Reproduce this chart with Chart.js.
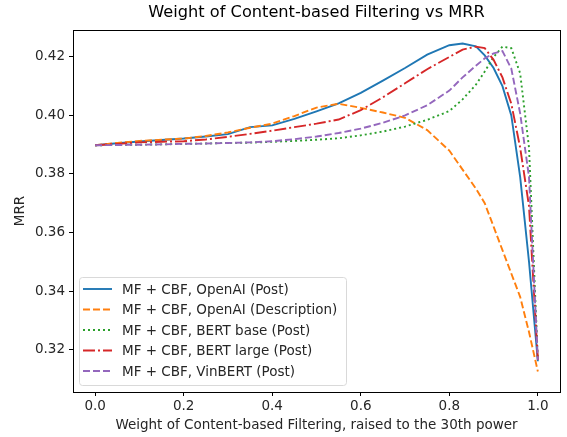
<!DOCTYPE html>
<html>
<head>
<meta charset="utf-8">
<script src="https://cdn.jsdelivr.net/npm/chart.js@4.4.1/dist/chart.umd.min.js"></script>
<style>
  html, body { margin: 0; padding: 0; background: #fff; }
  #wrap { width: 567px; height: 437px; position: relative; }
</style>
</head>
<body>
<div id="wrap"><canvas id="c"></canvas></div>
<script>
// x = weight of CBF, raised to the 30th power
var weights = [0, 0.05, 0.1, 0.15, 0.2, 0.25, 0.3, 0.35, 0.4, 0.45, 0.5, 0.55, 0.6, 0.65,
  0.7, 0.75, 0.8, 0.83, 0.86, 0.88, 0.9, 0.92, 0.94, 0.96, 0.98, 1.0];

var openaiPost = [0.3898, 0.3905, 0.3911, 0.3916, 0.3921, 0.3928, 0.3936, 0.3960, 0.3966, 0.3988,
  0.4014, 0.4041, 0.4077, 0.4119, 0.4162, 0.4208, 0.4240, 0.4246, 0.4236, 0.4205,
  0.4162, 0.4100, 0.4000, 0.3790, 0.3500, 0.3160];
var openaiDesc = [0.3898, 0.3906, 0.3913, 0.3917, 0.3921, 0.3930, 0.3942, 0.3958, 0.3972, 0.3998,
  0.4027, 0.4040, 0.4026, 0.4010, 0.3992, 0.3950, 0.3880, 0.3815, 0.3750, 0.3700,
  0.3620, 0.3540, 0.3460, 0.3380, 0.3260, 0.3125];
var bertBase = [0.3898, 0.3899, 0.3900, 0.3901, 0.3903, 0.3904, 0.3906, 0.3907, 0.3910, 0.3913,
  0.3917, 0.3922, 0.3932, 0.3945, 0.3962, 0.3985, 0.4015, 0.4055, 0.4105, 0.4150,
  0.4200, 0.4235, 0.4230, 0.4144, 0.3890, 0.3165];
var bertLarge = [0.3898, 0.3903, 0.3908, 0.3910, 0.3912, 0.3918, 0.3927, 0.3937, 0.3948, 0.3960,
  0.3972, 0.3986, 0.4018, 0.4062, 0.4110, 0.4158, 0.4200, 0.4225, 0.4235, 0.4230,
  0.4190, 0.4130, 0.4040, 0.3890, 0.3690, 0.3165];
var vinbert = [0.3898, 0.3899, 0.3900, 0.3901, 0.3903, 0.3904, 0.3906, 0.3908, 0.3912, 0.3919,
  0.3928, 0.3940, 0.3955, 0.3975, 0.4000, 0.4035, 0.4085, 0.4130, 0.4170, 0.4195,
  0.4212, 0.4220, 0.4160, 0.4007, 0.3790, 0.3165];

var seriesLabels = [
  'MF + CBF, OpenAI (Post)',
  'MF + CBF, OpenAI (Description)',
  'MF + CBF, BERT base (Post)',
  'MF + CBF, BERT large (Post)',
  'MF + CBF, VinBERT (Post)'
];
var seriesValues = [openaiPost, openaiDesc, bertBase, bertLarge, vinbert];

var xTicks = [0, 0.2, 0.4, 0.6, 0.8, 1.0];
var yTicks = [0.32, 0.34, 0.36, 0.38, 0.40, 0.42];

var chartTitle = 'Weight of Content-based Filtering vs MRR';

var COLORS = ['#1f77b4', '#ff7f0e', '#2ca02c', '#d62728', '#9467bd'];
var DASHES = [[], [7, 3], [2, 3], [12, 3, 2, 3], [7, 3]];
var FONT = 'DejaVu Sans';
var TXT = '#262626';

var datasets = seriesValues.map(function(vals, i) {
  return {
    label: seriesLabels[i],
    data: vals.map(function(v, j) { return { x: weights[j], y: v }; }),
    borderColor: COLORS[i],
    backgroundColor: COLORS[i],
    borderWidth: 1.9,
    borderDash: DASHES[i],
    pointRadius: 0,
    tension: 0,
    fill: false,
    order: 4 - i
  };
});

// frame, title over the plot area, and matplotlib-like legend in the lower left
var framePlugin = {
  id: 'frame',
  afterDraw: function(chart) {
    var ctx = chart.ctx, a = chart.chartArea;
    ctx.save();
    ctx.strokeStyle = '#000';
    ctx.lineWidth = 1;
    ctx.strokeRect(Math.round(a.left) + 0.5, Math.round(a.top) + 0.5,
      Math.round(a.right - a.left), Math.round(a.bottom - a.top));

    ctx.fillStyle = '#000';
    ctx.font = '16.2px "' + FONT + '"';
    ctx.textAlign = 'center';
    ctx.textBaseline = 'middle';
    ctx.fillText(chartTitle, (a.left + a.right) / 2, 13);

    // legend
    var lx = a.left + 6, ly = a.bottom - 115, lw = 267, lh = 108;
    ctx.fillStyle = 'rgba(255,255,255,0.8)';
    ctx.strokeStyle = '#d9d9d9';
    ctx.lineWidth = 1;
    ctx.beginPath();
    if (ctx.roundRect) ctx.roundRect(lx + 0.5, ly + 0.5, lw, lh, 3);
    else ctx.rect(lx + 0.5, ly + 0.5, lw, lh);
    ctx.fill();
    ctx.stroke();
    ctx.font = '13.5px "' + FONT + '"';
    ctx.textAlign = 'left';
    ctx.textBaseline = 'middle';
    chart.data.datasets.forEach(function(ds, i) {
      var y = ly + 12 + i * 20.5;
      ctx.strokeStyle = ds.borderColor;
      ctx.lineWidth = ds.borderWidth;
      ctx.setLineDash(ds.borderDash);
      ctx.beginPath();
      ctx.moveTo(lx + 4, y);
      ctx.lineTo(lx + 33, y);
      ctx.stroke();
      ctx.setLineDash([]);
      ctx.fillStyle = TXT;
      ctx.fillText(ds.label, lx + 43, y + 1);
    });
    ctx.restore();
  }
};

new Chart(document.getElementById('c'), {
  type: 'line',
  data: { datasets: datasets },
  plugins: [framePlugin],
  options: {
    responsive: true,
    maintainAspectRatio: false,
    animation: false,
    layout: { padding: { left: 0, right: 7, top: 30, bottom: 0 } },
    plugins: {
      legend: { display: false },
      tooltip: { enabled: false },
      title: { display: false }
    },
    scales: {
      x: {
        type: 'linear',
        min: -0.05,
        max: 1.05,
        afterBuildTicks: function(s) { s.ticks = xTicks.map(function(v) { return { value: v }; }); },
        afterFit: function(s) { s.height = 45; },
        grid: { drawOnChartArea: false, drawTicks: true, tickLength: 4, color: '#000' },
        border: { display: false },
        ticks: {
          color: TXT,
          padding: 2,
          maxRotation: 0,
          font: { family: FONT, size: 13.5 },
          callback: function(v) { return v.toFixed(1); }
        },
        title: {
          display: true,
          text: 'Weight of Content-based Filtering, raised to the 30th power',
          color: TXT,
          font: { family: FONT, size: 13.5 },
          padding: { top: 0, bottom: 3 }
        }
      },
      y: {
        min: 0.3055,
        max: 0.4292,
        afterBuildTicks: function(s) { s.ticks = yTicks.map(function(v) { return { value: v }; }); },
        afterFit: function(s) { s.width = 73; },
        grid: { drawOnChartArea: false, drawTicks: true, tickLength: 4, color: '#000' },
        border: { display: false },
        ticks: {
          color: TXT,
          padding: 4,
          font: { family: FONT, size: 13.5 },
          callback: function(v) { return v.toFixed(2); }
        },
        title: {
          display: true,
          text: 'MRR',
          color: TXT,
          font: { family: FONT, size: 13.5 },
          padding: { top: 12, bottom: 0 }
        }
      }
    }
  }
});
</script>
</body>
</html>
